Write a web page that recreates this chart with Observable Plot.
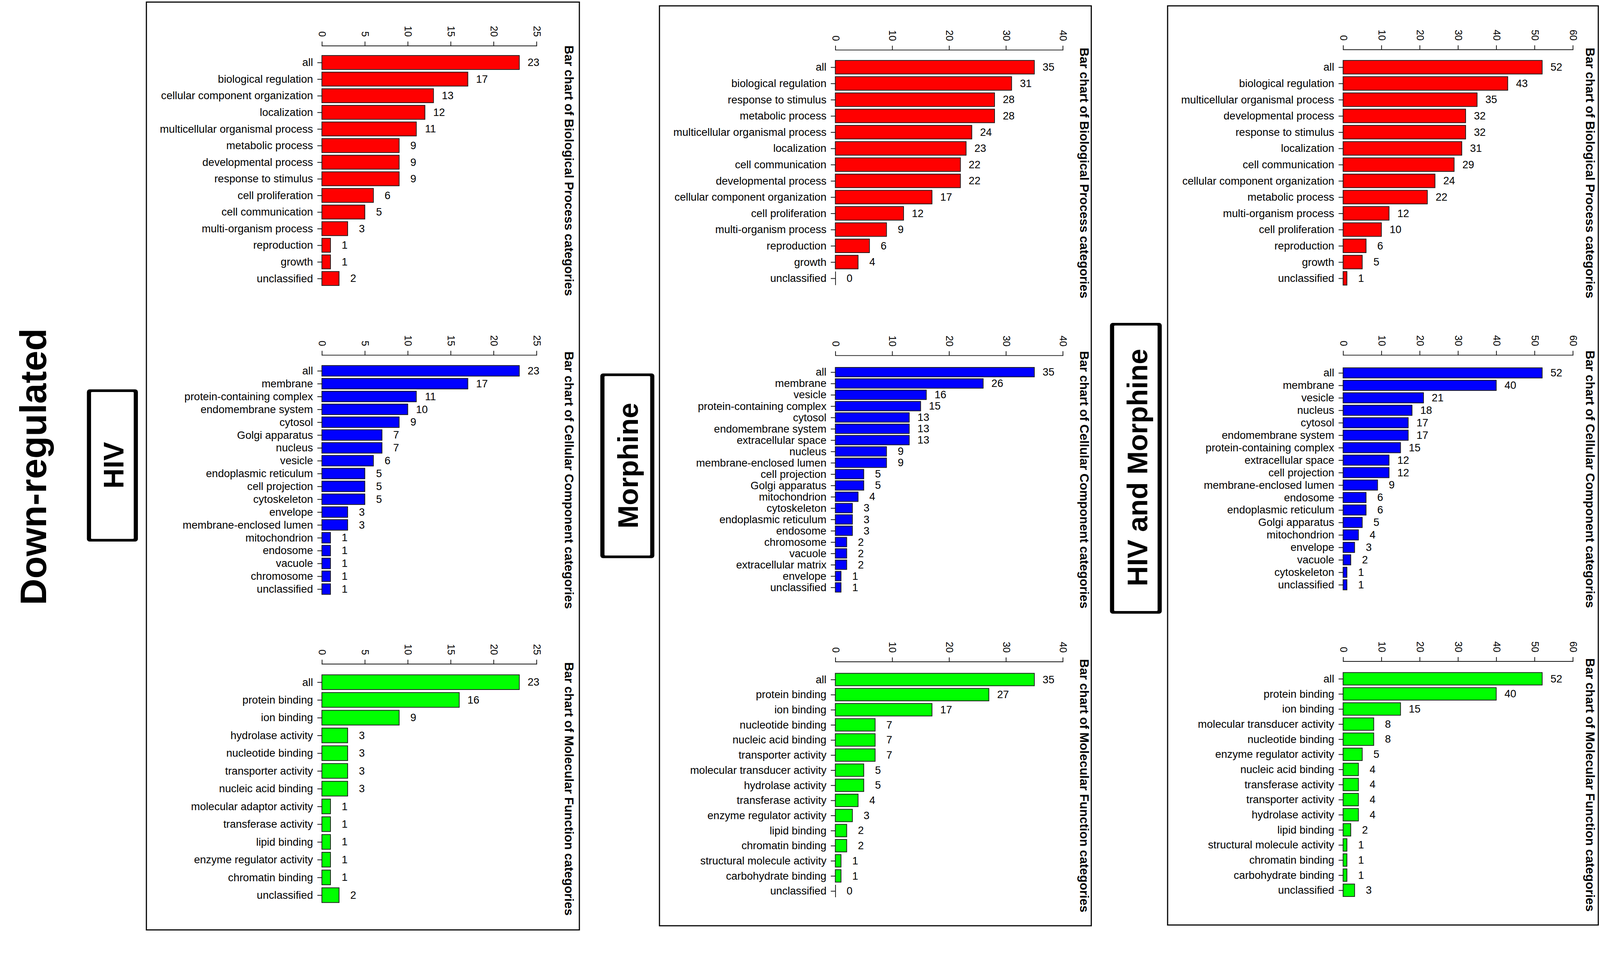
<!DOCTYPE html>
<html>
<head>
<meta charset="utf-8">
<script src="https://cdn.jsdelivr.net/npm/d3@7"></script>
<script src="https://cdn.jsdelivr.net/npm/@observablehq/plot@0.6"></script>
<style>
html, body { margin: 0; padding: 0; background: #fff; overflow: hidden; }
#page { position: relative; width: 4235px; height: 2469px; overflow: hidden; background: #fff; transform-origin: 0 0; }
.chart { position: absolute; }
.chart svg { max-width: none !important; }
#deco { position: absolute; left: 0; top: 0; pointer-events: none; }
</style>
</head>
<body>
<div id="page"></div>
<script>
// ---------------- DATA ----------------
const sideLabel = "Down-regulated";
const groupLabels = ["HIV", "Morphine", "HIV and Morphine"];
const chartTitles = [
  "Bar chart of Biological Process categories",
  "Bar chart of Cellular Component categories",
  "Bar chart of Molecular Function categories"
];
const barColors = ["#ff0000", "#0000ff", "#00ff00"];

const hivTicks = [0, 5, 10, 15, 20, 25];
const morphineTicks = [0, 10, 20, 30, 40];
const bothTicks = [0, 10, 20, 30, 40, 50, 60];

// HIV
const hivBPCategories = ["all", "biological regulation", "cellular component organization", "localization",
  "multicellular organismal process", "metabolic process", "developmental process", "response to stimulus",
  "cell proliferation", "cell communication", "multi-organism process", "reproduction", "growth", "unclassified"];
const hivBPValues = [23, 17, 13, 12, 11, 9, 9, 9, 6, 5, 3, 1, 1, 2];

const hivCCCategories = ["all", "membrane", "protein-containing complex", "endomembrane system", "cytosol",
  "Golgi apparatus", "nucleus", "vesicle", "endoplasmic reticulum", "cell projection", "cytoskeleton",
  "envelope", "membrane-enclosed lumen", "mitochondrion", "endosome", "vacuole", "chromosome", "unclassified"];
const hivCCValues = [23, 17, 11, 10, 9, 7, 7, 6, 5, 5, 5, 3, 3, 1, 1, 1, 1, 1];

const hivMFCategories = ["all", "protein binding", "ion binding", "hydrolase activity", "nucleotide binding",
  "transporter activity", "nucleic acid binding", "molecular adaptor activity", "transferase activity",
  "lipid binding", "enzyme regulator activity", "chromatin binding", "unclassified"];
const hivMFValues = [23, 16, 9, 3, 3, 3, 3, 1, 1, 1, 1, 1, 2];

// Morphine
const morBPCategories = ["all", "biological regulation", "response to stimulus", "metabolic process",
  "multicellular organismal process", "localization", "cell communication", "developmental process",
  "cellular component organization", "cell proliferation", "multi-organism process", "reproduction", "growth", "unclassified"];
const morBPValues = [35, 31, 28, 28, 24, 23, 22, 22, 17, 12, 9, 6, 4, 0];

const morCCCategories = ["all", "membrane", "vesicle", "protein-containing complex", "cytosol", "endomembrane system",
  "extracellular space", "nucleus", "membrane-enclosed lumen", "cell projection", "Golgi apparatus", "mitochondrion",
  "cytoskeleton", "endoplasmic reticulum", "endosome", "chromosome", "vacuole", "extracellular matrix", "envelope", "unclassified"];
const morCCValues = [35, 26, 16, 15, 13, 13, 13, 9, 9, 5, 5, 4, 3, 3, 3, 2, 2, 2, 1, 1];

const morMFCategories = ["all", "protein binding", "ion binding", "nucleotide binding", "nucleic acid binding",
  "transporter activity", "molecular transducer activity", "hydrolase activity", "transferase activity",
  "enzyme regulator activity", "lipid binding", "chromatin binding", "structural molecule activity",
  "carbohydrate binding", "unclassified"];
const morMFValues = [35, 27, 17, 7, 7, 7, 5, 5, 4, 3, 2, 2, 1, 1, 0];

// HIV and Morphine
const bothBPCategories = ["all", "biological regulation", "multicellular organismal process", "developmental process",
  "response to stimulus", "localization", "cell communication", "cellular component organization", "metabolic process",
  "multi-organism process", "cell proliferation", "reproduction", "growth", "unclassified"];
const bothBPValues = [52, 43, 35, 32, 32, 31, 29, 24, 22, 12, 10, 6, 5, 1];

const bothCCCategories = ["all", "membrane", "vesicle", "nucleus", "cytosol", "endomembrane system",
  "protein-containing complex", "extracellular space", "cell projection", "membrane-enclosed lumen", "endosome",
  "endoplasmic reticulum", "Golgi apparatus", "mitochondrion", "envelope", "vacuole", "cytoskeleton", "unclassified"];
const bothCCValues = [52, 40, 21, 18, 17, 17, 15, 12, 12, 9, 6, 6, 5, 4, 3, 2, 1, 1];

const bothMFCategories = ["all", "protein binding", "ion binding", "molecular transducer activity", "nucleotide binding",
  "enzyme regulator activity", "nucleic acid binding", "transferase activity", "transporter activity",
  "hydrolase activity", "lipid binding", "structural molecule activity", "chromatin binding", "carbohydrate binding", "unclassified"];
const bothMFValues = [52, 40, 15, 8, 8, 5, 4, 4, 4, 4, 2, 1, 1, 1, 3];

// ---------------- LAYOUT (page pixels) ----------------
const series = [
  [[hivBPCategories, hivBPValues], [hivCCCategories, hivCCValues], [hivMFCategories, hivMFValues]],
  [[morBPCategories, morBPValues], [morCCCategories, morCCValues], [morMFCategories, morMFValues]],
  [[bothBPCategories, bothBPValues], [bothCCCategories, bothCCValues], [bothMFCategories, bothMFValues]]
];
const tickSets = [hivTicks, morphineTicks, bothTicks];

const layout = [
  {left: 386, right: 1535, top: 4, bottom: 2464, x0: 852, x1: 1420, titleX: 1505,
   box: [230, 1031, 365, 1434], labelBaseX: 327, labelCY: 1232,
   rows: [{axisY: 121, first: 165, last: 738}, {axisY: 940, first: 979, last: 1563}, {axisY: 1758, first: 1803, last: 2374}]},
  {left: 1744, right: 2890, top: 14, bottom: 2453, x0: 2211, x1: 2813, titleX: 2869,
   box: [1589, 989, 1732, 1478], labelBaseX: 1688, labelCY: 1233,
   rows: [{axisY: 132, first: 173, last: 742}, {axisY: 941, first: 980, last: 1560}, {axisY: 1752, first: 1794, last: 2366}]},
  {left: 3089, right: 4232, top: 14, bottom: 2451, x0: 3555, x1: 4163, titleX: 4208,
   box: [2938, 855, 3075, 1625], labelBaseX: 3037, labelCY: 1238,
   rows: [{axisY: 131, first: 173, last: 742}, {axisY: 940, first: 980, last: 1557}, {axisY: 1751, first: 1792, last: 2364}]}
];

const FONT = "'Liberation Sans', Arial, Helvetica, sans-serif";
const page = document.getElementById("page");

// fit the 4235x2469 page into whatever viewport the browser gives
function fitPage() {
  const vw = document.documentElement.clientWidth || window.innerWidth;
  const vh = document.documentElement.clientHeight || window.innerHeight;
  const sc = Math.min(vw / 4235, vh / 2469);
  page.style.transform = `scale(${sc})`;
}
fitPage();
window.addEventListener("resize", fitPage);

function drawChart(panel, row, cats, vals, ticks, color, title) {
  const data = cats.map((c, i) => ({category: c, value: vals[i]}));
  const n = cats.length;
  const p = 0.167;
  const s = (row.last - row.first) / (n - 1);
  const ext = s * (1 + p) / 2;
  const a = row.first - ext, b = row.last + ext;
  const L = panel.left + 6;
  const W = panel.right - panel.left - 12;
  const T = row.axisY - 140;
  const H = Math.ceil(b + 70 - T);
  const frameBottom = a + b - row.axisY;
  const chart = Plot.plot({
    width: W,
    height: H,
    marginLeft: panel.x0 - L,
    marginRight: L + W - panel.x1,
    marginTop: row.axisY - T,
    marginBottom: T + H - frameBottom,
    style: {fontFamily: FONT, fontSize: "28px", color: "#000", background: "transparent", overflow: "visible"},
    x: {domain: [0, ticks[ticks.length - 1]]},
    y: {domain: cats, range: [a - T, b - T], padding: p},
    marks: [
      Plot.frame({anchor: "top", stroke: "#111", strokeWidth: 2}),
      Plot.barX(data, {x: "value", y: "category", fill: color, stroke: "#1a1a1a", strokeWidth: 2}),
      Plot.tickX(data.filter(d => d.value === 0), {x: "value", y: "category", stroke: "#1a1a1a", strokeWidth: 2}),
      Plot.text(data, {x: "value", y: "category", text: d => String(d.value), dx: 37,
        textAnchor: "middle", fontSize: 28, fill: "#000"}),
      Plot.axisX({anchor: "top", ticks: ticks, tickSize: 12, tickPadding: 12, tickRotate: 90,
        textAnchor: "end", lineAnchor: "middle", fontSize: 26, label: null, strokeWidth: 2, stroke: "#111", fill: "#000"}),
      Plot.axisY({anchor: "left", tickSize: 12, tickPadding: 12, fontSize: 28.5, label: null,
        strokeWidth: 2, stroke: "#111", fill: "#000"}),
      Plot.text([title], {frameAnchor: "right", dx: panel.titleX - panel.x1, rotate: 90,
        textAnchor: "middle", lineAnchor: "middle", fontSize: 33, fontWeight: "bold", fill: "#000"})
    ]
  });
  const div = document.createElement("div");
  div.className = "chart";
  div.style.left = L + "px";
  div.style.top = T + "px";
  div.style.width = W + "px";
  div.style.height = H + "px";
  div.appendChild(chart);
  page.appendChild(div);
}

layout.forEach((panel, pi) => {
  panel.rows.forEach((row, ri) => {
    const [cats, vals] = series[pi][ri];
    drawChart(panel, row, cats, vals, tickSets[pi], barColors[ri], chartTitles[ri]);
  });
});

// ---------------- DECORATION (frames and labels) ----------------
const NS = "http://www.w3.org/2000/svg";
const deco = document.createElementNS(NS, "svg");
deco.setAttribute("id", "deco");
deco.setAttribute("width", 4235);
deco.setAttribute("height", 2469);
function el(tag, attrs, text) {
  const e = document.createElementNS(NS, tag);
  for (const k in attrs) e.setAttribute(k, attrs[k]);
  if (text != null) e.textContent = text;
  deco.appendChild(e);
  return e;
}
layout.forEach((panel, pi) => {
  const sw = 3;
  el("rect", {x: panel.left + sw / 2, y: panel.top + sw / 2,
    width: panel.right - panel.left - sw, height: panel.bottom - panel.top - sw,
    fill: "none", stroke: "#000", "stroke-width": sw});
  const [bx1, by1, bx2, by2] = panel.box;
  const sideW = 11, capW = 7;
  el("rect", {x: bx1, y: by1, width: bx2 - bx1, height: by2 - by1, rx: 7, ry: 7, fill: "#000"});
  el("rect", {x: bx1 + sideW, y: by1 + capW, width: bx2 - bx1 - 2 * sideW, height: by2 - by1 - 2 * capW,
    rx: 2, ry: 2, fill: "#fff"});
  el("text", {transform: `translate(${panel.labelBaseX},${panel.labelCY}) rotate(-90)`,
    "text-anchor": "middle", "font-family": FONT, "font-weight": "bold", "font-size": 74, fill: "#000"},
    groupLabels[pi]);
});
el("text", {transform: "translate(122,1236) rotate(-90)", "text-anchor": "middle",
  "font-family": FONT, "font-weight": "bold", "font-size": 97, fill: "#000"}, sideLabel);
page.appendChild(deco);
</script>
</body>
</html>
